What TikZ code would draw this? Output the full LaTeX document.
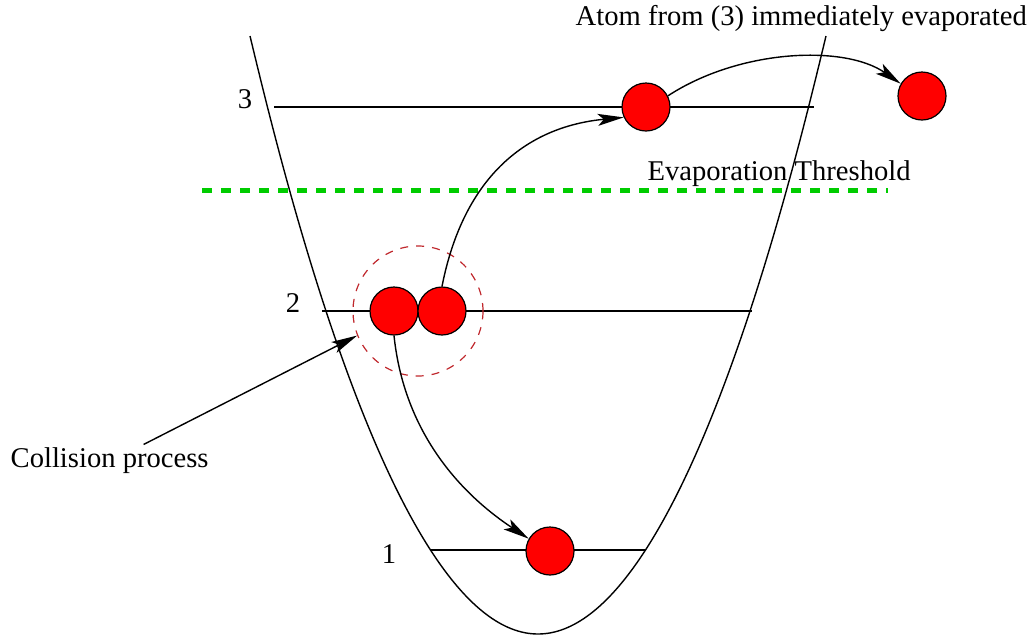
\documentclass[tikz,border=0pt]{standalone}
\usepackage{fontspec}
\setmainfont{Liberation Serif}
\usepackage{tikz}
\usetikzlibrary{arrows.meta, shapes.geometric}
\usepackage{xcolor}
\definecolor{atomred}{HTML}{FF0000}
\definecolor{ringred}{HTML}{C0282D}
\definecolor{threshgreen}{HTML}{00CC00}

\begin{document}
\begin{tikzpicture}[
    x=0.5pt, y=-0.5pt,
    line width=0.7pt,
    every node/.style={font=\fontsize{14.3}{17}\selectfont},
    atom/.style={circle, draw=black, fill=atomred, minimum size=24pt, inner sep=0pt, line width=0.6pt},
    ring/.style={circle, draw=ringred, dashed, dash pattern=on 4pt off 4pt, minimum size=65pt, inner sep=0pt, line width=0.6pt},
    level/.style={draw=black, line width=0.7pt},
    lvlnum/.style={anchor=base, inner sep=0pt},
    label/.style={anchor=base west, inner sep=0pt},
    arrow/.style={-{Stealth[length=13pt, width=6pt, inset=3pt]}, line width=0.7pt}
]
    \useasboundingbox (0,0) rectangle (1034,638);

    % Potential well
    \draw (250,36) parabola bend (538,634) (826,36);

    % Levels
    \draw[level] (274,107) -- (814,107);
    \draw[level] (322,311) -- (752,311);
    \draw[level] (431,550) -- (645,550);
    \node[lvlnum] (n3) at (245,108) {3};
    \node[lvlnum] (n2) at (293,312) {2};
    \node[lvlnum] (n1) at (389,563) {1};

    % Threshold
    \draw[threshgreen, line width=2.5pt, dash pattern=on 5pt off 4.5pt] (202,190) -- (888,190);
    \node[label] (thresh) at (647,180) {Evaporation Threshold};

    % Atoms
    \node[ring] (ring) at (418,311) {};
    \node[atom] (b2l) at (394,311) {};
    \node[atom] (b2r) at (442,311) {};
    \node[atom] (b1) at (550,551) {};
    \node[atom] (b3) at (646,107) {};
    \node[atom] (b4) at (922,96) {};

    % Labels
    \node[label] (evap) at (575,25) {Atom from (3) immediately evaporated};
    \node[label] (coll) at (10,467) {Collision process};

    % Arrows
    \draw[arrow] (b2r.north) .. controls +(22,-112) and +(-95,9) .. (b3.205);
    \draw[arrow] (b2l.south) .. controls +(11,105) and +(-59,-39) .. (b1.150);
    \draw[arrow] (b3.27) .. controls +(72,-47) and +(-56,-39) .. (b4.150);
    \draw[arrow] ([xshift=17pt, yshift=1pt]coll.north) -- (ring.202);
\end{tikzpicture}
\end{document}
